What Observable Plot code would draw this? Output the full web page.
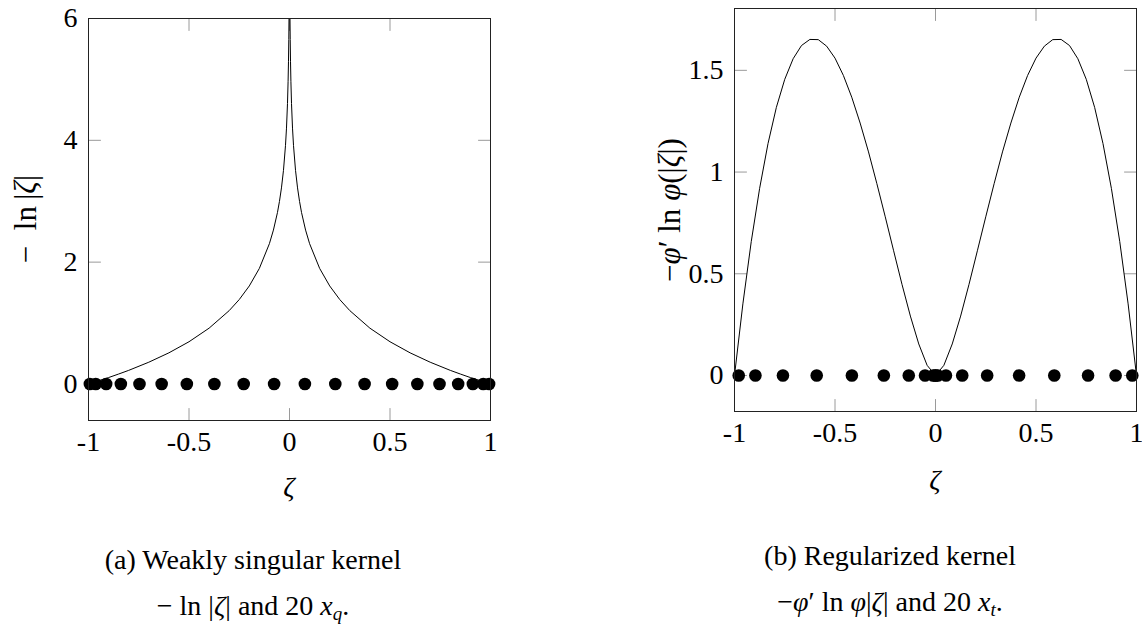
<!DOCTYPE html>
<html><head><meta charset="utf-8">
<script src="https://cdn.jsdelivr.net/npm/d3@7"></script>
<script src="https://cdn.jsdelivr.net/npm/@observablehq/plot@0.6"></script>
<style>
html,body{margin:0;padding:0;background:#fff;}
#root{position:relative;width:1142px;height:625px;overflow:hidden;font-family:"Liberation Serif","DejaVu Serif",serif;color:#000;}
.plot{position:absolute;top:0;}
.lbl{position:absolute;font-size:28px;line-height:40px;white-space:nowrap;transform:translate(-50%,-50%);}
.ylbl{transform:translate(-50%,-50%) rotate(-90deg);font-size:31px;}
.i{font-style:italic;}
sub{font-size:19px;vertical-align:-5px;line-height:0;}
</style></head><body><div id="root"></div>
<script>
// ---- data ----
const xTicks = [-1, -0.5, 0, 0.5, 1];
const xTickLabels = ["-1", "-0.5", "0", "0.5", "1"];
const yTicksLeft = [0, 2, 4, 6];
const yTickLabelsLeft = ["0", "2", "4", "6"];
const yTicksRight = [0, 0.5, 1, 1.5];
const yTickLabelsRight = ["0", "0.5", "1", "1.5"];

// left curve: |ζ| magnitudes and kernel values (symmetric about 0)
const absZetaLeft = [0.0025, 0.0035, 0.005, 0.007, 0.01, 0.015, 0.02, 0.03, 0.04, 0.05, 0.06, 0.08, 0.1, 0.15, 0.2, 0.25, 0.3, 0.4, 0.5, 0.6, 0.7, 0.8, 0.85, 0.9, 0.95, 1];
const kernelLeft = [5.99, 5.655, 5.298, 4.962, 4.605, 4.200, 3.912, 3.507, 3.219, 2.996, 2.813, 2.526, 2.303, 1.897, 1.609, 1.386, 1.204, 0.916, 0.693, 0.511, 0.357, 0.223, 0.163, 0.105, 0.051, 0];

// left nodes x_q
const nodesLeft = [-0.9931, -0.9639, -0.9122, -0.8391, -0.7463, -0.636, -0.5108, -0.3737, -0.2279, -0.0765, 0.0765, 0.2279, 0.3737, 0.5108, 0.636, 0.7463, 0.8391, 0.9122, 0.9639, 0.9931];

// right curve: |ζ| magnitudes and kernel values (symmetric about 0)
const absZetaRight = [0, 0.0417, 0.0833, 0.125, 0.1667, 0.2083, 0.25, 0.2917, 0.3333, 0.375, 0.4167, 0.4583, 0.5, 0.5417, 0.5833, 0.625, 0.6667, 0.7083, 0.75, 0.7917, 0.8333, 0.875, 0.9167, 0.9583, 1];
const kernelRight = [0, 0.050, 0.155, 0.292, 0.448, 0.613, 0.780, 0.943, 1.099, 1.241, 1.368, 1.475, 1.560, 1.619, 1.651, 1.652, 1.622, 1.557, 1.456, 1.318, 1.140, 0.920, 0.658, 0.352, 0];

// right nodes x_t
const nodesRight = [-0.979, -0.896, -0.759, -0.591, -0.416, -0.257, -0.133, -0.052, -0.012, -0.0004, 0.0004, 0.012, 0.052, 0.133, 0.257, 0.416, 0.591, 0.759, 0.896, 0.979];

// ---- helpers ----
const tickShape = {draw(context, l) { context.moveTo(0, 0); context.lineTo(0, -l); }};
const font = {fontFamily: "'Liberation Serif','DejaVu Serif',serif", fontSize: "28px", background: "white", color: "black", overflow: "visible"};
const TICK = 12, TICKCOL = "#9a9a9a";

function inwardTicks(xDomain, yDomain, xt, yt) {
  return [
    Plot.vector(xt, {x: d => d, y: yDomain[0], length: TICK, rotate: 0, anchor: "start", shape: tickShape, stroke: TICKCOL, strokeWidth: 1}),
    Plot.vector(xt, {x: d => d, y: yDomain[1], length: TICK, rotate: 180, anchor: "start", shape: tickShape, stroke: TICKCOL, strokeWidth: 1}),
    Plot.vector(yt, {x: xDomain[0], y: d => d, length: TICK, rotate: 90, anchor: "start", shape: tickShape, stroke: TICKCOL, strokeWidth: 1}),
    Plot.vector(yt, {x: xDomain[1], y: d => d, length: TICK, rotate: -90, anchor: "start", shape: tickShape, stroke: TICKCOL, strokeWidth: 1})
  ];
}
const mapOf = (t, l) => new Map(t.map((v, i) => [v, l[i]]));
function mirrored(absX, vals) {
  const rows = [];
  absX.forEach((a, i) => rows.push({x: -a, y: vals[i], side: "neg"}));
  absX.forEach((a, i) => rows.push({x: a, y: vals[i], side: "pos"}));
  return rows;
}
const xLabelMap = mapOf(xTicks, xTickLabels);

// ---- left panel ----
const xDomL = [-1, 1], yDomL = [-0.6, 6];
const leftMapY = mapOf(yTicksLeft, yTickLabelsLeft);
const left = Plot.plot({
  width: 571, height: 520,
  marginLeft: 88, marginRight: 81, marginTop: 18, marginBottom: 100,
  style: font,
  x: {domain: xDomL},
  y: {domain: yDomL},
  marks: [
    ...inwardTicks(xDomL, yDomL, xTicks, yTicksLeft),
    Plot.line(mirrored(absZetaLeft, kernelLeft), {x: "x", y: "y", z: "side", stroke: "black", strokeWidth: 1, clip: true}),
    Plot.dot(nodesLeft, {x: d => d, y: 0, r: 6.3, fill: "black"}),
    Plot.frame({stroke: "#222", strokeWidth: 1}),
    Plot.axisX({ticks: xTicks, tickFormat: d => xLabelMap.get(d), tickSize: 0, tickPadding: 11, label: null}),
    Plot.axisY({ticks: yTicksLeft, tickFormat: d => leftMapY.get(d), tickSize: 0, tickPadding: 11, label: null})
  ]
});
left.classList.add("plot");
left.style.left = "0px";

// ---- right panel ----
const xDomR = [-1, 1], yDomR = [-0.177, 1.804];
const rightMapY = mapOf(yTicksRight, yTickLabelsRight);
const rightRows = mirrored(absZetaRight, kernelRight).filter(r => !(r.side === "neg" && r.x === 0));
const right = Plot.plot({
  width: 571, height: 520,
  marginLeft: 163, marginRight: 6, marginTop: 8, marginBottom: 109,
  style: font,
  x: {domain: xDomR},
  y: {domain: yDomR},
  marks: [
    ...inwardTicks(xDomR, yDomR, xTicks, yTicksRight),
    Plot.line(rightRows, {x: "x", y: "y", sort: "x", stroke: "black", strokeWidth: 1, clip: true}),
    Plot.dot(nodesRight, {x: d => d, y: 0, r: 6.3, fill: "black"}),
    Plot.frame({stroke: "#222", strokeWidth: 1}),
    Plot.axisX({ticks: xTicks, tickFormat: d => xLabelMap.get(d), tickSize: 0, tickPadding: 11, label: null}),
    Plot.axisY({ticks: yTicksRight, tickFormat: d => rightMapY.get(d), tickSize: 0, tickPadding: 11, label: null})
  ]
});
right.classList.add("plot");
right.style.left = "571px";

const root = document.getElementById("root");
root.appendChild(left);
root.appendChild(right);

// ---- axis titles and captions ----
const texts = [
  {html: '&minus;&ensp;ln&thinsp;|<span class="i">ζ</span>|', x: 26, y: 219, rot: true},
  {html: '<span class="i">ζ</span>', x: 289, y: 487},
  {html: '&minus;<span class="i">φ</span>′ ln <span class="i">φ</span>(|<span class="i">ζ</span>|)', x: 670, y: 210, rot: true},
  {html: '<span class="i">ζ</span>', x: 935, y: 480},
  {html: '(a) Weakly singular kernel', x: 253, y: 560},
  {html: '&minus; ln |<span class="i">ζ</span>| and 20 <span class="i">x</span><sub class="i">q</sub>.', x: 253, y: 606},
  {html: '(b) Regularized kernel', x: 890, y: 556},
  {html: '&minus;<span class="i">φ</span>′ ln <span class="i">φ</span>|<span class="i">ζ</span>| and 20 <span class="i">x</span><sub class="i">t</sub>.', x: 890, y: 602}
];
for (const t of texts) {
  const d = document.createElement("div");
  d.className = "lbl" + (t.rot ? " ylbl" : "");
  d.innerHTML = t.html;
  d.style.left = t.x + "px";
  d.style.top = t.y + "px";
  root.appendChild(d);
}
</script>
</body></html>
